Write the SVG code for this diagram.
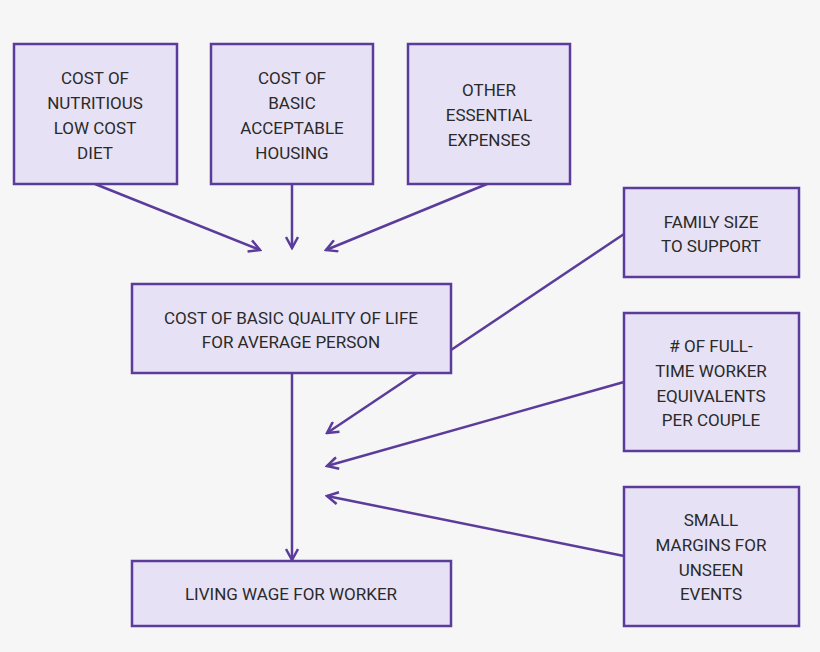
<svg xmlns="http://www.w3.org/2000/svg" width="820" height="652" viewBox="0 0 820 652">
<style>
.b{fill:#e6e1f4;stroke:#5b3c9b;stroke-width:2.5}
text{font-family:Roboto,"Liberation Sans",sans-serif;font-size:17px;fill:#2a2a2a;text-anchor:middle;dominant-baseline:central}
.c line{stroke:#5b3c9b;stroke-width:2.5}
</style>
<defs><marker id="a" markerWidth="14" markerHeight="14" refX="12" refY="7" orient="auto" markerUnits="userSpaceOnUse"><path d="M1,1 L12,7 L1,13" fill="none" stroke="#5b3c9b" stroke-width="2.5"/></marker></defs>
<rect width="820" height="652" fill="#f6f6f6"/>
<g class="c">
<line x1="95" y1="184" x2="260" y2="250" marker-end="url(#a)"/>
<line x1="292" y1="184" x2="292" y2="248" marker-end="url(#a)"/>
<line x1="487" y1="184" x2="326" y2="250" marker-end="url(#a)"/>
<line x1="624" y1="234" x2="327" y2="433" marker-end="url(#a)"/>
<line x1="624" y1="382" x2="327" y2="466" marker-end="url(#a)"/>
<line x1="624" y1="556" x2="327" y2="496" marker-end="url(#a)"/>
<line x1="292" y1="374" x2="292" y2="560" marker-end="url(#a)"/>
</g>
<g id="n1"><rect class="b" x="14" y="44" width="163" height="140"/><text x="95" y="78">COST OF</text><text x="95" y="103">NUTRITIOUS</text><text x="95" y="128">LOW COST</text><text x="95" y="153">DIET</text></g>
<g id="n2"><rect class="b" x="211" y="44" width="162" height="140"/><text x="292" y="78">COST OF</text><text x="292" y="103">BASIC</text><text x="292" y="128">ACCEPTABLE</text><text x="292" y="153">HOUSING</text></g>
<g id="n3"><rect class="b" x="408" y="44" width="162" height="140"/><text x="489" y="90">OTHER</text><text x="489" y="115">ESSENTIAL</text><text x="489" y="140">EXPENSES</text></g>
<g id="n4"><rect class="b" x="624" y="188" width="175" height="89"/><text x="711" y="222">FAMILY SIZE</text><text x="711" y="246">TO SUPPORT</text></g>
<g id="n5"><rect class="b" x="132" y="284" width="319" height="89"/><text x="291" y="318">COST OF BASIC QUALITY OF LIFE</text><text x="291" y="342">FOR AVERAGE PERSON</text></g>
<g id="n6"><rect class="b" x="624" y="313" width="175" height="138"/><text x="711" y="346">#  OF FULL-</text><text x="711" y="371">TIME WORKER</text><text x="711" y="396">EQUIVALENTS</text><text x="711" y="420">PER COUPLE</text></g>
<g id="n7"><rect class="b" x="624" y="487" width="175" height="139"/><text x="711" y="520">SMALL</text><text x="711" y="545">MARGINS FOR</text><text x="711" y="570">UNSEEN</text><text x="711" y="594">EVENTS</text></g>
<g id="n8"><rect class="b" x="132" y="561" width="319" height="65"/><text x="291" y="594">LIVING WAGE FOR WORKER</text></g>
</svg>
